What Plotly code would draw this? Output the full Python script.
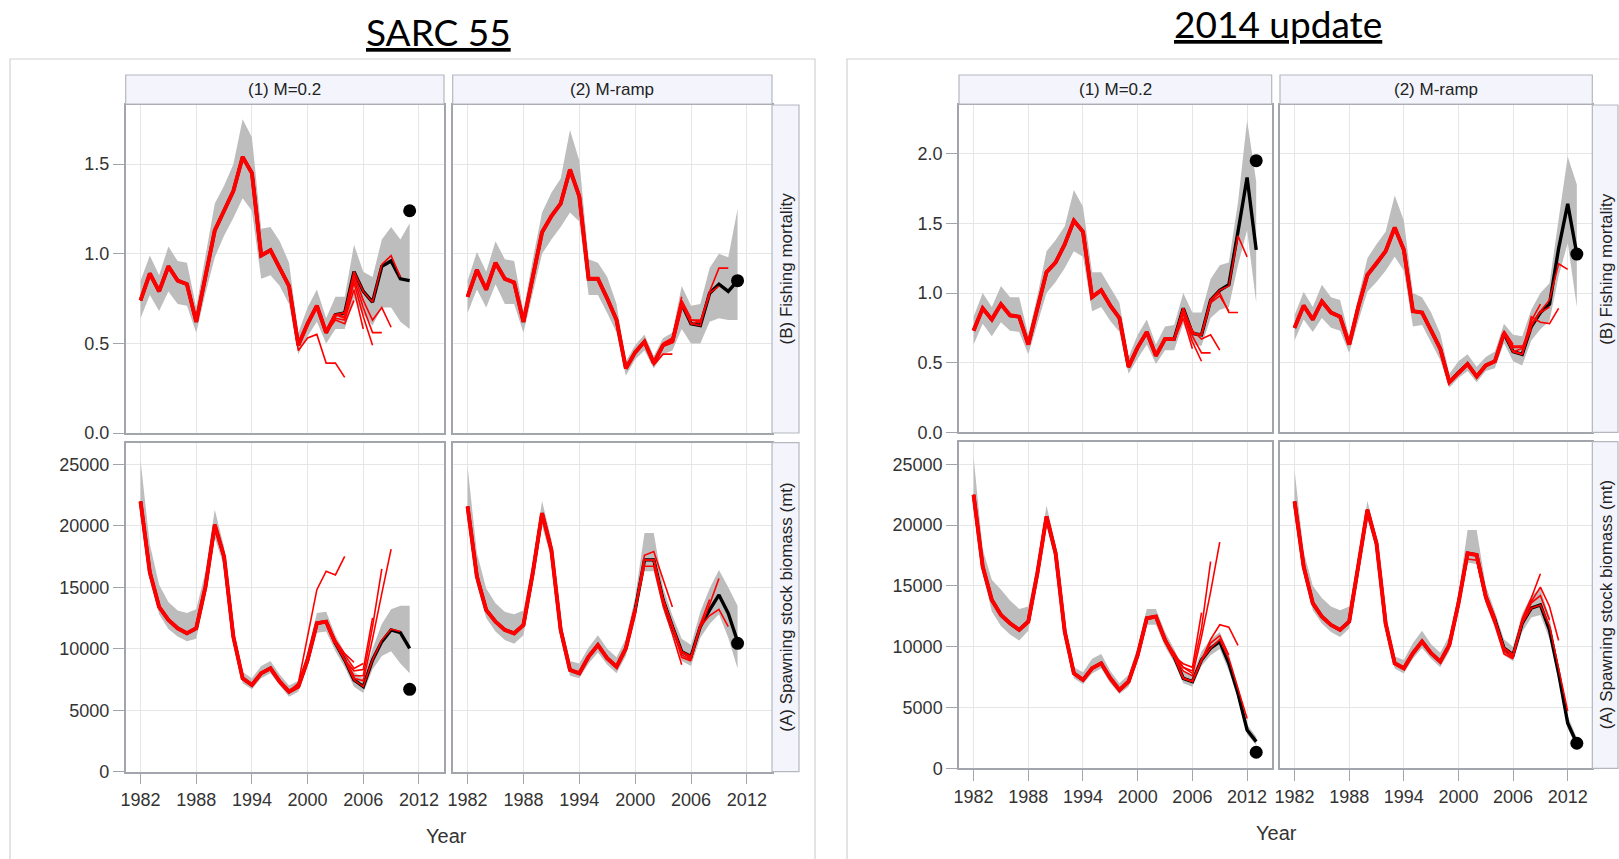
import plotly.graph_objects as go

W, H = 1619, 859

# ---------------------------------------------------------------- data
years_sarc = list(range(1982, 2012))
years_upd = list(range(1982, 2014))
year_ticks = [1982, 1988, 1994, 2000, 2006, 2012]

f_ticks_sarc = [0.0, 0.5, 1.0, 1.5]
f_ticks_upd = [0.0, 0.5, 1.0, 1.5, 2.0]
ssb_ticks = [0, 5000, 10000, 15000, 20000, 25000]

# SARC 55, fishing mortality, M=0.2
f_sarc_m02 = [0.74, 0.89, 0.79, 0.93, 0.85, 0.83, 0.62, 0.88, 1.13, 1.24,
              1.35, 1.54, 1.45, 0.99, 1.02, 0.92, 0.82, 0.49, 0.61, 0.71,
              0.56, 0.66, 0.67, 0.90, 0.79, 0.73, 0.93, 0.96, 0.86, 0.85]
f_sarc_m02_lo = [0.64, 0.77, 0.68, 0.79, 0.72, 0.71, 0.56, 0.78, 0.98, 1.10,
                 1.20, 1.31, 1.24, 0.86, 0.88, 0.82, 0.72, 0.44, 0.54, 0.62,
                 0.50, 0.58, 0.58, 0.75, 0.66, 0.60, 0.70, 0.70, 0.62, 0.58]
f_sarc_m02_hi = [0.85, 0.99, 0.88, 1.04, 0.96, 0.95, 0.70, 0.98, 1.28, 1.38,
                 1.50, 1.75, 1.65, 1.14, 1.15, 1.07, 0.95, 0.56, 0.70, 0.80,
                 0.64, 0.76, 0.76, 1.05, 0.90, 0.87, 1.08, 1.15, 1.08, 1.17]
f_sarc_m02_adj = 1.24
f_sarc_m02_peels = [(1999, [0.46, 0.53, 0.55, 0.39, 0.39, 0.31]),
                    (2003, [0.63, 0.61, 0.74]),
                    (2003, [0.64, 0.63, 0.80, 0.58]),
                    (2004, [0.64, 0.84, 0.65, 0.49]),
                    (2004, [0.65, 0.86, 0.70, 0.56, 0.56]),
                    (2005, [0.88, 0.74, 0.63, 0.70, 0.59]),
                    (2008, [0.94, 0.99, 0.87])]

# SARC 55, fishing mortality, M-ramp
f_sarc_mr = [0.76, 0.91, 0.80, 0.95, 0.86, 0.84, 0.62, 0.88, 1.12, 1.21,
             1.28, 1.47, 1.32, 0.86, 0.86, 0.75, 0.63, 0.36, 0.45, 0.51,
             0.39, 0.49, 0.51, 0.72, 0.61, 0.60, 0.78, 0.83, 0.79, 0.85]
f_sarc_mr_lo = [0.67, 0.80, 0.70, 0.83, 0.72, 0.72, 0.56, 0.78, 1.00, 1.08,
                1.15, 1.23, 1.18, 0.77, 0.77, 0.67, 0.56, 0.32, 0.41, 0.46,
                0.36, 0.44, 0.46, 0.58, 0.50, 0.50, 0.62, 0.64, 0.63, 0.63]
f_sarc_mr_hi = [0.85, 1.01, 0.90, 1.07, 0.97, 0.96, 0.68, 0.97, 1.23, 1.34,
                1.42, 1.69, 1.52, 0.97, 0.95, 0.87, 0.72, 0.40, 0.49, 0.55,
                0.43, 0.53, 0.56, 0.82, 0.71, 0.72, 0.92, 1.00, 0.98, 1.25]
f_sarc_mr_adj = 0.85
f_sarc_mr_peels = [(2002, [0.38, 0.44, 0.44]),
                   (2003, [0.50, 0.53, 0.76]),
                   (2004, [0.53, 0.74, 0.64]),
                   (2005, [0.73, 0.63, 0.63]),
                   (2006, [0.63, 0.62, 0.77]),
                   (2007, [0.62, 0.78, 0.82]),
                   (2008, [0.79, 0.92, 0.92])]

# SARC 55, spawning stock biomass, M=0.2
ssb_sarc_m02 = [21970, 16200, 13400, 12340, 11660, 11250, 11660, 15050, 20070, 17490,
                10980, 7590, 7050, 8000, 8410, 7320, 6510, 6920, 9090, 12070,
                12200, 10440, 9090, 7460, 6920, 9090, 10580, 11530, 11310, 10030]
ssb_sarc_m02_lo = [21000, 15800, 12800, 11600, 11000, 10600, 10800, 14300, 19000, 16700,
                   10500, 7200, 6700, 7600, 8000, 7000, 6100, 6500, 8500, 11300,
                   11400, 9800, 8500, 6900, 6400, 8300, 9400, 9800, 8800, 8000]
ssb_sarc_m02_hi = [25300, 18500, 15200, 13800, 13100, 12900, 13200, 16300, 21300, 18300,
                   11600, 8100, 7600, 8600, 9000, 7900, 7000, 7400, 9800, 12900,
                   13000, 11100, 9700, 8100, 7600, 10000, 12000, 13200, 13500, 13500]
ssb_sarc_m02_adj = 6700
ssb_sarc_m02_peels = [(1999, [7200, 11000, 14800, 16300, 16000, 17500]),
                      (2003, [10700, 9600, 8900]),
                      (2004, [9500, 8400, 8800]),
                      (2005, [8200, 8300, 12500]),
                      (2005, [7800, 7800, 11800, 16500]),
                      (2005, [7600, 7400, 10800, 14500, 18100]),
                      (2008, [10700, 11600, 11400])]

# SARC 55, spawning stock biomass, M-ramp
ssb_sarc_mr = [21560, 15870, 13150, 12200, 11530, 11250, 11930, 16140, 21020, 18030,
               11530, 8270, 8000, 9360, 10300, 9220, 8540, 10030, 13150, 17220,
               17220, 13970, 11800, 9760, 9360, 11800, 13150, 14370, 12880, 10580]
ssb_sarc_mr_lo = [21000, 15200, 12500, 11400, 10700, 10400, 11100, 15300, 20000, 17300,
                  11000, 7800, 7600, 8800, 9700, 8700, 8000, 9400, 12400, 16300,
                  16300, 13200, 11100, 9000, 8600, 10900, 12000, 12800, 10900, 8400]
ssb_sarc_mr_hi = [24800, 17800, 14900, 13700, 13000, 12800, 13100, 17100, 22000, 18900,
                  12200, 9000, 8800, 10100, 11100, 10000, 9300, 10800, 14200, 19400,
                  19400, 15000, 12700, 10800, 10300, 13000, 14900, 16400, 15000, 13500]
ssb_sarc_mr_adj = 10440
ssb_sarc_mr_peels = [(2001, [17600, 17900, 15700, 13400]),
                     (2001, [16700, 16700, 13500, 11200, 8700]),
                     (2005, [9300, 9000]),
                     (2005, [9500, 9100, 11900]),
                     (2006, [9200, 12000, 14000]),
                     (2007, [11700, 13600, 15700]),
                     (2008, [12700, 13200, 11800])]

# 2014 update, fishing mortality, M=0.2
f_upd_m02 = [0.73, 0.89, 0.81, 0.92, 0.84, 0.83, 0.63, 0.89, 1.15, 1.22,
             1.35, 1.52, 1.44, 0.97, 1.02, 0.91, 0.82, 0.47, 0.61, 0.72,
             0.55, 0.67, 0.67, 0.89, 0.71, 0.70, 0.95, 1.02, 1.06, 1.44,
             1.83, 1.31]
f_upd_m02_lo = [0.63, 0.78, 0.69, 0.79, 0.73, 0.72, 0.56, 0.78, 1.00, 1.08,
                1.18, 1.30, 1.26, 0.87, 0.90, 0.80, 0.72, 0.42, 0.53, 0.63,
                0.49, 0.59, 0.59, 0.78, 0.63, 0.62, 0.82, 0.88, 0.90, 1.20,
                1.45, 0.93]
f_upd_m02_hi = [0.83, 1.00, 0.90, 1.05, 0.97, 0.97, 0.70, 0.98, 1.30, 1.38,
                1.48, 1.74, 1.62, 1.15, 1.15, 1.04, 0.93, 0.54, 0.70, 0.81,
                0.63, 0.76, 0.77, 1.00, 0.86, 0.86, 1.10, 1.20, 1.22, 1.65,
                2.24, 1.80]
f_upd_m02_adj = 1.95
f_upd_m02_peels = [(2004, [0.66, 0.82, 0.60]),
                   (2005, [0.85, 0.65, 0.51]),
                   (2005, [0.87, 0.69, 0.57, 0.57]),
                   (2005, [0.88, 0.73, 0.67, 0.70, 0.59]),
                   (2008, [0.93, 0.98, 0.87]),
                   (2009, [1.00, 0.86, 0.86]),
                   (2010, [1.05, 1.41, 1.26])]

# 2014 update, fishing mortality, M-ramp
f_upd_mr = [0.75, 0.91, 0.81, 0.94, 0.86, 0.83, 0.63, 0.90, 1.13, 1.21,
            1.30, 1.47, 1.31, 0.87, 0.86, 0.73, 0.60, 0.36, 0.43, 0.49,
            0.40, 0.48, 0.51, 0.71, 0.58, 0.56, 0.76, 0.86, 0.92, 1.32,
            1.64, 1.28]
f_upd_mr_lo = [0.66, 0.81, 0.72, 0.82, 0.75, 0.73, 0.57, 0.80, 1.01, 1.08,
               1.16, 1.26, 1.16, 0.76, 0.77, 0.64, 0.52, 0.32, 0.39, 0.44,
               0.36, 0.44, 0.46, 0.64, 0.51, 0.48, 0.66, 0.74, 0.80, 1.12,
               1.36, 0.90]
f_upd_mr_hi = [0.84, 1.01, 0.90, 1.06, 0.97, 0.95, 0.69, 0.98, 1.25, 1.35,
               1.44, 1.70, 1.52, 1.00, 0.97, 0.86, 0.71, 0.42, 0.51, 0.56,
               0.47, 0.54, 0.58, 0.78, 0.70, 0.69, 0.88, 1.00, 1.07, 1.53,
               1.98, 1.78]
f_upd_mr_adj = 1.28
f_upd_mr_peels = [(2005, [0.73, 0.63]),
                  (2005, [0.72, 0.62, 0.62]),
                  (2006, [0.61, 0.61, 0.74]),
                  (2007, [0.60, 0.80, 0.92]),
                  (2008, [0.78, 0.86, 0.90]),
                  (2008, [0.83, 0.79, 0.78, 0.89]),
                  (2009, [0.87, 0.95, 1.21, 1.17])]

# 2014 update, spawning stock biomass, M=0.2
ssb_upd_m02 = [22480, 16580, 13840, 12610, 11920, 11380, 12060, 16040, 20700, 17680,
               11240, 7810, 7270, 8220, 8630, 7400, 6440, 7130, 9320, 12330,
               12470, 10550, 9180, 7400, 7130, 8910, 9870, 10420, 8630, 6170,
               3150, 2190]
ssb_upd_m02_lo = [21700, 16000, 12900, 11700, 11000, 10500, 11300, 15400, 19900, 17000,
                  10700, 7400, 6900, 7800, 8200, 7000, 6100, 6700, 8800, 11800,
                  11800, 10000, 8700, 7000, 6700, 8400, 9300, 9800, 8000, 5700,
                  2800, 1900]
ssb_upd_m02_hi = [25600, 18000, 15500, 14700, 13800, 13100, 13300, 16800, 21600, 18400,
                  11900, 8300, 7900, 9000, 9400, 8000, 7000, 7700, 10000, 13100,
                  13100, 11200, 9800, 8000, 7700, 9600, 10600, 11200, 9400, 6800,
                  3600, 2600]
ssb_upd_m02_adj = 1320
ssb_upd_m02_peels = [(2004, [9500, 8300, 7800]),
                     (2005, [8600, 8300, 12800]),
                     (2005, [8300, 8000, 11500, 17000]),
                     (2005, [8000, 7600, 10800, 14500, 18600]),
                     (2008, [10300, 10900, 9300]),
                     (2008, [10600, 11800, 11600, 10100]),
                     (2009, [10600, 9000, 6600, 4100])]

# 2014 update, spawning stock biomass, M-ramp
ssb_upd_mr = [21930, 16580, 13570, 12470, 11790, 11380, 12060, 16450, 21240, 18500,
              11920, 8630, 8220, 9460, 10420, 9460, 8770, 10140, 13570, 17680,
              17540, 14120, 12200, 9870, 9320, 11920, 13160, 13430, 11380, 7810,
              3700, 2060]
ssb_upd_mr_lo = [21300, 16000, 13000, 11900, 11200, 10800, 11500, 15700, 20500, 17900,
                 11400, 8200, 7800, 9000, 9900, 9000, 8300, 9600, 12900, 16900,
                 16800, 13500, 11600, 9300, 8800, 11200, 12400, 12600, 10600, 7200,
                 3300, 1700]
ssb_upd_mr_hi = [24500, 17800, 15000, 14000, 13300, 13000, 13300, 17200, 22000, 19000,
                 12400, 9200, 8900, 10300, 11300, 10200, 9500, 10900, 14300, 19600,
                 19600, 15000, 12900, 10600, 10000, 12700, 14200, 14800, 12400, 8500,
                 4300, 2500]
ssb_upd_mr_adj = 2060
ssb_upd_mr_peels = [(2001, [17200, 17100, 13800, 11800, 9400, 9000]),
                    (2005, [9600, 9100, 12100]),
                    (2006, [9200, 12200, 13900]),
                    (2007, [12300, 14000, 16000]),
                    (2008, [13600, 14200, 12200]),
                    (2008, [13700, 14900, 13300, 10500]),
                    (2010, [11700, 8200, 4700])]

# ---------------------------------------------------------------- layout helpers
def fx(px):
    return px / W


def fy(py):
    return 1 - py / H


GRID = "#e6e6e6"
FRAME = "#a2a6ac"
BAND = "#bdbdbd"
STRIP_FILL = "#f4f5fc"
TICK_FONT = dict(family="Liberation Sans, Arial, sans-serif", size=18, color="#333333")

# one entry per cell: pixel box, years, series, last year drawn as the common red core
cells = [
    dict(box=(125.7, 444, 105, 433), years=years_sarc, est=f_sarc_m02, lo=f_sarc_m02_lo,
         hi=f_sarc_m02_hi, adj=f_sarc_m02_adj, peels=f_sarc_m02_peels, core=2003,
         yr=[0, 1.83], yt=f_ticks_sarc, fmt="{:.1f}", left=True, bottom=False),
    dict(box=(452.7, 772, 105, 433), years=years_sarc, est=f_sarc_mr, lo=f_sarc_mr_lo,
         hi=f_sarc_mr_hi, adj=f_sarc_mr_adj, peels=f_sarc_mr_peels, core=2005,
         yr=[0, 1.83], yt=f_ticks_sarc, fmt="{:.1f}", left=False, bottom=False),
    dict(box=(125.7, 444, 442.7, 771.7), years=years_sarc, est=ssb_sarc_m02, lo=ssb_sarc_m02_lo,
         hi=ssb_sarc_m02_hi, adj=ssb_sarc_m02_adj, peels=ssb_sarc_m02_peels, core=2003,
         yr=[0, 26750], yt=ssb_ticks, fmt="{:d}", left=True, bottom=True),
    dict(box=(452.7, 772, 442.7, 771.7), years=years_sarc, est=ssb_sarc_mr, lo=ssb_sarc_mr_lo,
         hi=ssb_sarc_mr_hi, adj=ssb_sarc_mr_adj, peels=ssb_sarc_mr_peels, core=2000,
         yr=[0, 26750], yt=ssb_ticks, fmt="{:d}", left=False, bottom=True),
    dict(box=(959, 1271.7, 105, 432.3), years=years_upd, est=f_upd_m02, lo=f_upd_m02_lo,
         hi=f_upd_m02_hi, adj=f_upd_m02_adj, peels=f_upd_m02_peels, core=2004,
         yr=[0, 2.35], yt=f_ticks_upd, fmt="{:.1f}", left=True, bottom=False),
    dict(box=(1280, 1592.3, 105, 432.3), years=years_upd, est=f_upd_mr, lo=f_upd_mr_lo,
         hi=f_upd_mr_hi, adj=f_upd_mr_adj, peels=f_upd_mr_peels, core=2005,
         yr=[0, 2.35], yt=f_ticks_upd, fmt="{:.1f}", left=False, bottom=False),
    dict(box=(959, 1271.7, 441.7, 768.3), years=years_upd, est=ssb_upd_m02, lo=ssb_upd_m02_lo,
         hi=ssb_upd_m02_hi, adj=ssb_upd_m02_adj, peels=ssb_upd_m02_peels, core=2004,
         yr=[0, 26850], yt=ssb_ticks, fmt="{:d}", left=True, bottom=True),
    dict(box=(1280, 1592.3, 441.7, 768.3), years=years_upd, est=ssb_upd_mr, lo=ssb_upd_mr_lo,
         hi=ssb_upd_mr_hi, adj=ssb_upd_mr_adj, peels=ssb_upd_mr_peels, core=2004,
         yr=[0, 26850], yt=ssb_ticks, fmt="{:d}", left=False, bottom=True),
]

fig = go.Figure()
layout_axes = {}

for i, c in enumerate(cells, start=1):
    xa, ya = f"x{i}", f"y{i}"
    yrs = c["years"]
    first = yrs[0]

    # confidence band
    fig.add_trace(go.Scatter(
        x=yrs + yrs[::-1], y=c["hi"] + c["lo"][::-1], xaxis=xa, yaxis=ya,
        mode="lines", fill="toself", fillcolor=BAND, line=dict(width=0, color=BAND),
        hoverinfo="skip", showlegend=False))
    # full-data estimate
    fig.add_trace(go.Scatter(
        x=yrs, y=c["est"], xaxis=xa, yaxis=ya, mode="lines",
        line=dict(color="black", width=3.4), showlegend=False))
    # shared part of the retrospective runs
    n_core = c["core"] - first + 1
    fig.add_trace(go.Scatter(
        x=yrs[:n_core], y=c["est"][:n_core], xaxis=xa, yaxis=ya, mode="lines",
        line=dict(color="#ff0000", width=4), showlegend=False))
    # retrospective peels
    for start, tail in c["peels"]:
        k = start - first
        py = c["est"][:k] + tail
        fig.add_trace(go.Scatter(
            x=yrs[:len(py)], y=py, xaxis=xa, yaxis=ya, mode="lines",
            line=dict(color="#ff0000", width=1.6), showlegend=False))
    # adjusted terminal value
    fig.add_trace(go.Scatter(
        x=[yrs[-1]], y=[c["adj"]], xaxis=xa, yaxis=ya, mode="markers",
        marker=dict(color="black", size=13), showlegend=False))

    x0, x1, y0, y1 = c["box"]
    layout_axes[f"xaxis{i}"] = dict(
        domain=[fx(x0), fx(x1)], anchor=ya, range=[1980.4, 2014.7],
        tickvals=year_ticks, showgrid=True, gridcolor=GRID, gridwidth=1,
        zeroline=False, showline=True, mirror=True, linecolor=FRAME, linewidth=1.5,
        ticks="outside" if c["bottom"] else "", ticklen=11, tickcolor=FRAME,
        showticklabels=c["bottom"], tickfont=TICK_FONT, automargin=False)
    layout_axes[f"yaxis{i}"] = dict(
        domain=[fy(y1), fy(y0)], anchor=xa, range=c["yr"],
        tickvals=c["yt"], ticktext=[c["fmt"].format(v) for v in c["yt"]],
        showgrid=True, gridcolor=GRID, gridwidth=1,
        zeroline=False, showline=True, mirror=True, linecolor=FRAME, linewidth=1.5,
        ticks="outside" if c["left"] else "", ticklen=11, tickcolor=FRAME,
        showticklabels=c["left"], tickfont=TICK_FONT, automargin=False)

shapes = []
annotations = []

# outer frames around each facet block
for (l, r) in [(10, 815), (847, 1640)]:
    shapes.append(dict(type="rect", xref="paper", yref="paper",
                       x0=fx(l), x1=fx(r), y0=fy(880), y1=fy(59),
                       line=dict(color="#d2d2d2", width=1.2), fillcolor="rgba(0,0,0,0)"))

STRIP_FONT = dict(family="Liberation Sans, Arial, sans-serif", size=17, color="#222222")
col_boxes = [(125.7, 444), (452.7, 772), (959, 1271.7), (1280, 1592.3)]
col_labels = ["(1) M=0.2", "(2) M-ramp", "(1) M=0.2", "(2) M-ramp"]
for (l, r), lab in zip(col_boxes, col_labels):
    shapes.append(dict(type="rect", xref="paper", yref="paper",
                       x0=fx(l), x1=fx(r), y0=fy(104), y1=fy(75),
                       line=dict(color="#b4b8be", width=1.2), fillcolor=STRIP_FILL))
    annotations.append(dict(xref="paper", yref="paper", x=fx((l + r) / 2), y=fy(89.5),
                            text=lab, showarrow=False, font=STRIP_FONT,
                            xanchor="center", yanchor="middle"))

row_boxes = [((772, 799), (105, 433)), ((772, 799), (442.7, 771.7)),
             ((1592.3, 1618), (105, 432.3)), ((1592.3, 1618), (441.7, 768.3))]
row_labels = ["(B) Fishing mortality", "(A) Spawning stock biomass (mt)"] * 2
for ((l, r), (t, b)), lab in zip(row_boxes, row_labels):
    shapes.append(dict(type="rect", xref="paper", yref="paper",
                       x0=fx(l), x1=fx(r), y0=fy(b), y1=fy(t),
                       line=dict(color="#b4b8be", width=1.2), fillcolor=STRIP_FILL))
    annotations.append(dict(xref="paper", yref="paper", x=fx((l + r) / 2 + 1), y=fy((t + b) / 2),
                            text=lab, showarrow=False, font=STRIP_FONT,
                            textangle=-90, xanchor="center", yanchor="middle"))

# axis titles
for x, y in [(447, 836), (1276, 833)]:
    annotations.append(dict(xref="paper", yref="paper", x=fx(x), y=fy(y), text="Year",
                            showarrow=False, xanchor="center", yanchor="middle",
                            font=dict(family="Liberation Sans, Arial, sans-serif",
                                      size=20, color="#333333")))

# block headings
TITLE_FONT = dict(family="Lato, Open Sans, sans-serif", size=37, color="black",
                  lineposition="under")
annotations.append(dict(xref="paper", yref="paper", x=fx(438), y=fy(31), text="SARC 55",
                        showarrow=False, xanchor="center", yanchor="middle", font=TITLE_FONT))
annotations.append(dict(xref="paper", yref="paper", x=fx(1278), y=fy(24), text="2014 update",
                        showarrow=False, xanchor="center", yanchor="middle", font=TITLE_FONT))

fig.update_layout(
    width=W, height=H, margin=dict(l=0, r=0, t=0, b=0, autoexpand=False),
    paper_bgcolor="white", plot_bgcolor="white",
    shapes=shapes, annotations=annotations, showlegend=False,
    **layout_axes)

fig.write_html("out.html")
